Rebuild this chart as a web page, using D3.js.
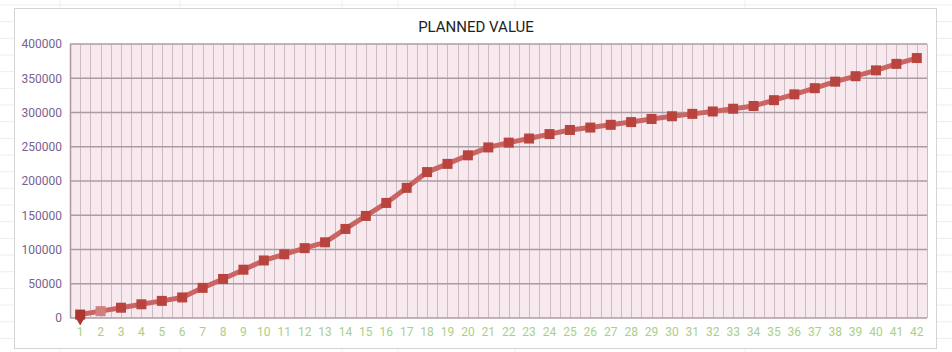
<!DOCTYPE html>
<html>
<head>
<meta charset="utf-8">
<script src="https://cdn.jsdelivr.net/npm/d3@7"></script>
<style>
html,body{margin:0;padding:0;background:#fff;}
svg{display:block;font-family:Roboto, "Noto Sans", sans-serif;}
</style>
</head>
<body>
<svg id="chart" width="952" height="352"></svg>
<script>
const title = "PLANNED VALUE";
const categories = d3.range(1, 43).map(String);
const plannedValue = [
  5000, 10000, 15000, 20000, 25000, 30000, 44000, 57000, 70500, 84000,
  93000, 102000, 110500, 130000, 149000, 168000, 190000, 213000, 225000, 237500,
  249000, 256000, 262000, 268500, 274500, 278000, 282000, 286000, 290500, 294500,
  298000, 301500, 305500, 309500, 318000, 326500, 335500, 345000, 353000, 361500,
  371000, 379500
];
const yTicks = [0, 50000, 100000, 150000, 200000, 250000, 300000, 350000, 400000];

const svg = d3.select("#chart");
const W = 952, H = 352;
const m = {left: 70, right: 25, top: 44, bottom: 34};
const pw = W - m.left - m.right, ph = H - m.top - m.bottom;

// faint spreadsheet grid in background
const bg = svg.append("g");
d3.range(5, H, 16.67).forEach(y => {
  bg.append("line").attr("x1", 0).attr("x2", W).attr("y1", y).attr("y2", y)
    .attr("stroke", "#ededed").attr("stroke-width", 1);
});
[60, 180, 342, 398, 515, 745].forEach(x => {
  bg.append("line").attr("x1", x).attr("x2", x).attr("y1", 0).attr("y2", H)
    .attr("stroke", "#f0f0f0").attr("stroke-width", 1);
});

// panel
svg.append("rect").attr("x", 14.5).attr("y", 8.5).attr("width", 922).attr("height", 340)
  .attr("fill", "#fff").attr("stroke", "#d4d4d4").attr("stroke-width", 1);

svg.append("text").attr("x", 476).attr("y", 32).attr("text-anchor", "middle")
  .attr("font-size", 15).attr("fill", "#222").text(title);

const x = d3.scaleBand().domain(categories).range([m.left, m.left + pw]).padding(0);
const y = d3.scaleLinear().domain([0, 400000]).range([m.top + ph, m.top]);

const g = svg.append("g");
g.append("rect").attr("x", m.left).attr("y", m.top).attr("width", pw).attr("height", ph)
  .attr("fill", "#f7e9ee");

// vertical gridlines at band edges and centers
const vpos = [];
categories.forEach(c => { vpos.push(x(c)); vpos.push(x(c) + x.bandwidth() / 2); });
vpos.push(m.left + pw);
g.selectAll(".vg").data(vpos).join("line")
  .attr("x1", d => Math.round(d) + 0.5).attr("x2", d => Math.round(d) + 0.5)
  .attr("y1", m.top).attr("y2", m.top + ph)
  .attr("stroke", "#cdbac2").attr("stroke-width", 1);

// horizontal gridlines
g.selectAll(".hg").data(yTicks).join("line")
  .attr("x1", m.left).attr("x2", m.left + pw)
  .attr("y1", d => y(d)).attr("y2", d => y(d))
  .attr("stroke", "#ab9ca3").attr("stroke-width", 1.4);

// left axis line
g.append("line").attr("x1", m.left + 0.5).attr("x2", m.left + 0.5)
  .attr("y1", m.top).attr("y2", m.top + ph).attr("stroke", "#a89aa0").attr("stroke-width", 1.5);

// y axis
const yAxis = d3.axisLeft(y).tickValues(yTicks).tickSize(0).tickPadding(8).tickFormat(d => String(d));
const ya = svg.append("g").attr("transform", `translate(${m.left},0)`).call(yAxis);
ya.select(".domain").remove();
ya.selectAll("text").attr("font-size", 12).attr("fill", "#7b5f8e")
  .attr("font-family", "Roboto, 'Noto Sans', sans-serif");

// x axis
const xAxis = d3.axisBottom(x).tickSize(0).tickPadding(9);
const xa = svg.append("g").attr("transform", `translate(0,${m.top + ph})`).call(xAxis);
xa.select(".domain").remove();
xa.selectAll("text").attr("font-size", 12).attr("fill", "#a9cf86")
  .attr("font-family", "Roboto, 'Noto Sans', sans-serif");

// line
const cx = c => x(c) + x.bandwidth() / 2;
const line = d3.line().x((d, i) => cx(categories[i])).y(d => y(d));
g.append("path").datum(plannedValue).attr("d", line)
  .attr("fill", "none").attr("stroke", "#c96663").attr("stroke-width", 5)
  .attr("stroke-linejoin", "round");

// markers
const ms = 10;
g.selectAll(".mk").data(plannedValue).join("rect")
  .attr("x", (d, i) => cx(categories[i]) - ms / 2)
  .attr("y", d => y(d) - ms / 2)
  .attr("width", ms).attr("height", ms)
  .attr("fill", (d, i) => i === 0 ? "#ad3630" : (i === 1 ? "#d1807d" : "#b9443f"));
// first marker pointer
g.append("path")
  .attr("d", d3.symbol().type(d3.symbolTriangle).size(45)())
  .attr("transform", `translate(${cx(categories[0])},${y(plannedValue[0]) + 5}) rotate(180)`)
  .attr("fill", "#ad3630");
</script>
</body>
</html>
